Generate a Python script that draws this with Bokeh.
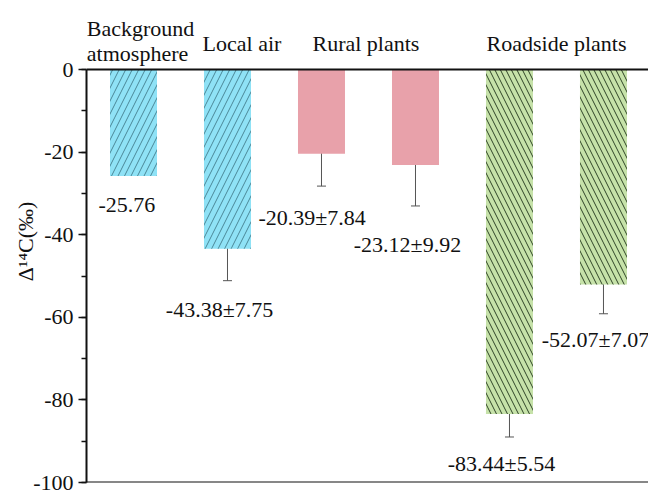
from bokeh.embed import file_html
from bokeh.models import (ColumnDataSource, Label, Range1d, SingleIntervalTicker,
                          Span, TeeHead, Whisker)
from bokeh.plotting import figure
from bokeh.resources import INLINE

# ---- data -------------------------------------------------------------
groups = ["Background atmosphere", "Local air", "Rural plants", "Roadside plants"]
means = [-25.76, -43.38, -20.39, -23.12, -83.44, -52.07]
errors = [None, 7.75, 7.84, 9.92, 5.54, 7.07]
y_ticks = [0, -20, -40, -60, -80, -100]

# ---- styling ----------------------------------------------------------
FONT = "Liberation Serif"
INK = "#111111"
fills = ["#8fe2f6", "#8fe2f6", "#e8a1aa", "#e8a1aa", "#c6e2a9", "#c6e2a9"]
hatches = ["/", "/", " ", " ", "\\", "\\"]
hatch_colors = ["#4a8797", "#4a8797", "#e8a1aa", "#e8a1aa", "#2e4426", "#2e4426"]
hatch_scales = [13, 13, 12, 12, 11, 11]

xs = list(range(1, len(means) + 1))

src = ColumnDataSource(dict(
    x=xs, top=[0] * len(means), bottom=means,
    fill=fills, hatch=hatches, hcol=hatch_colors, hscale=hatch_scales,
))

# the frame reaches the top edge so the group headers can sit above y = 0
p = figure(width=648, height=490, output_backend="svg", toolbar_location=None,
           x_range=Range1d(0.5, 6.479), y_range=Range1d(-100, 16.71),
           x_axis_location=None, min_border_left=86, min_border_right=0,
           min_border_top=0, min_border_bottom=8)
p.grid.visible = False
p.outline_line_color = None
p.background_fill_color = "white"
p.border_fill_color = "white"

p.vbar(x="x", width=0.5, top="top", bottom="bottom", source=src,
       fill_color="fill", line_color=None,
       hatch_pattern="hatch", hatch_color="hcol", hatch_scale="hscale",
       hatch_weight=1)

# error bars (mean ± sd) where available
ex = [x for x, e in zip(xs, errors) if e is not None]
em = [m for m, e in zip(means, errors) if e is not None]
ee = [e for e in errors if e is not None]
esrc = ColumnDataSource(dict(x=ex, lo=[m - e for m, e in zip(em, ee)],
                             hi=[m + e for m, e in zip(em, ee)]))
p.add_layout(Whisker(base="x", lower="lo", upper="hi", source=esrc,
                     line_color="#555555", line_width=1,
                     upper_head=TeeHead(size=9, line_color="#555555", line_width=1),
                     lower_head=TeeHead(size=9, line_color="#555555", line_width=1)))

# box lines at 0 and -100
for yv in (0, -100):
    p.add_layout(Span(location=yv, dimension="width", line_color=INK,
                      line_width=2))

# y axis, limited to the data span
ax = p.yaxis[0]
ax.bounds = (-100, 0)
ax.ticker = SingleIntervalTicker(interval=20, num_minor_ticks=2)
ax.major_label_overrides = {t: f"{t:d}" for t in y_ticks}
ax.axis_line_width = 2
ax.axis_line_color = INK
ax.major_tick_line_width = 1.5
ax.minor_tick_line_width = 1.5
ax.major_tick_line_color = INK
ax.minor_tick_line_color = INK
ax.major_tick_in = 0
ax.major_tick_out = 8
ax.minor_tick_in = 0
ax.minor_tick_out = 5
ax.major_label_standoff = 5
ax.major_label_text_font = FONT
ax.major_label_text_font_size = "22px"
ax.major_label_text_color = INK
ax.axis_label = "\u0394\u00b9\u2074C(\u2030)"
ax.axis_label_standoff = -8
ax.axis_label_text_font = FONT
ax.axis_label_text_font_size = "22px"
ax.axis_label_text_font_style = "normal"
ax.axis_label_text_color = INK

# group headers above the bars
bg_first, bg_second = groups[0].split(" ")
header_specs = [
    (bg_first, 1.075, 9.93),
    (bg_second, 1.043, 3.87),
    (groups[1], 2.154, 6.30),
    (groups[2], 3.473, 6.30),
    (groups[3], 5.5, 6.30),
]
for t, hx, hy in header_specs:
    p.add_layout(Label(x=hx, y=hy, text=t, text_align="center",
                       text_baseline="alphabetic", text_font=FONT,
                       text_font_size="22px", text_color=INK))

# value labels under each bar
value_texts = [f"{m:.2f}" if e is None else f"{m:.2f}\u00b1{e:.2f}"
               for m, e in zip(means, errors)]
value_pos = [(0.93, -32.7), (1.915, -58.1), (2.90, -35.8),
             (3.915, -42.4), (4.915, -95.4), (5.915, -65.4)]
for t, (lx, ly) in zip(value_texts, value_pos):
    p.add_layout(Label(x=lx, y=ly, text=t, text_align="center",
                       text_baseline="alphabetic", text_font=FONT,
                       text_font_size="22px", text_color=INK))

open("out.html", "w").write(file_html(p, INLINE))
